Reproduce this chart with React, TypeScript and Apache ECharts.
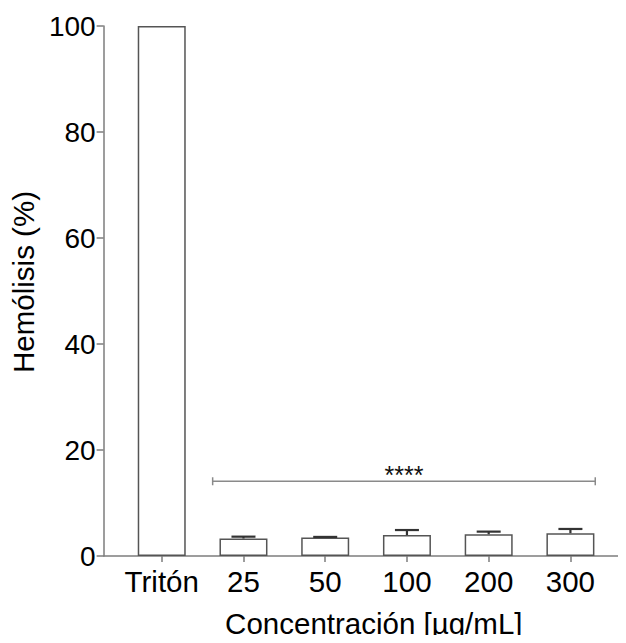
import React, { useEffect, useRef } from "react";
import * as echarts from "echarts";

const categories = ["Tritón", "25", "50", "100", "200", "300"];
const means = [100, 3.3, 3.5, 3.95, 4.1, 4.3];
const upperErr = [100, 3.65, 3.6, 4.9, 4.6, 5.1];
const sigLevel = 14.1;
const sigLabel = "****";
const yTicks = [0, 20, 40, 60, 80, 100];

const FONT = "'Liberation Sans', Arial, sans-serif";

export default function App() {
  const ref = useRef<HTMLDivElement>(null);
  useEffect(() => {
    if (!ref.current) return;
    const chart = echarts.init(ref.current, undefined, { renderer: "svg" });
    const axisColor = "#7d7d7d";
    chart.setOption({
      animation: false,
      textStyle: { fontFamily: FONT },
      grid: { left: 100, top: 26, right: 0, bottom: 85.5, containLabel: false },
      xAxis: {
        type: "value",
        min: -0.711,
        max: 5.68,
        splitLine: { show: false },
        axisLine: { show: true, onZero: false, lineStyle: { color: axisColor, width: 1.5 } },
        axisTick: {
          show: true,
          length: 6,
          customValues: categories.map((_, i) => i),
          lineStyle: { color: axisColor, width: 1.5 },
        },
        axisLabel: {
          customValues: categories.map((_, i) => i),
          formatter: (v: number) => categories[Math.round(v)] ?? "",
          fontSize: 29.5,
          color: "#000",
          margin: 10,
          fontFamily: FONT,
        },
        name: "Concentración [µg/mL]",
        nameLocation: "middle",
        nameGap: 52,
        nameTextStyle: { fontSize: 29.5, color: "#000", fontFamily: FONT, padding: [0, 0, 0, 18] },
      },
      yAxis: {
        type: "value",
        min: yTicks[0],
        max: yTicks[yTicks.length - 1],
        interval: 20,
        splitLine: { show: false },
        axisLine: { show: true, onZero: false, lineStyle: { color: axisColor, width: 1.5 } },
        axisTick: { show: true, length: 7, lineStyle: { color: axisColor, width: 1.5 } },
        axisLabel: { fontSize: 28, color: "#000", margin: 8, fontFamily: FONT },
        name: "Hemólisis (%)",
        nameLocation: "middle",
        nameGap: 59,
        nameTextStyle: { fontSize: 29.5, color: "#000", fontFamily: FONT, padding: [0, 0, 0, 18] },
      },
      series: [
        {
          type: "bar",
          data: means.map((m, i) => [i, m]),
          barWidth: 48,
          itemStyle: { color: "#fff", borderColor: "#555", borderWidth: 1.5 },
          z: 2,
        },
        {
          type: "custom",
          data: means.map((m, i) => [i, m, upperErr[i]]),
          z: 3,
          renderItem: (params: any, api: any) => {
            const x = api.value(0);
            const m = api.value(1);
            const u = api.value(2);
            if (u <= m) return null;
            const p0 = api.coord([x, m]);
            const p1 = api.coord([x, u]);
            const half = 12;
            const style = { stroke: "#333", lineWidth: 2.2 };
            return {
              type: "group",
              children: [
                { type: "line", shape: { x1: p0[0], y1: p0[1], x2: p1[0], y2: p1[1] }, style },
                { type: "line", shape: { x1: p1[0] - half, y1: p1[1], x2: p1[0] + half, y2: p1[1] }, style },
              ],
            };
          },
        },
        {
          type: "custom",
          data: [[1, 5, sigLevel]],
          z: 3,
          renderItem: (params: any, api: any) => {
            const band = api.size([1, 0])[0];
            const a = api.coord([api.value(0), api.value(2)]);
            const b = api.coord([api.value(1), api.value(2)]);
            const x1 = a[0] - 0.377 * band;
            const x2 = b[0] + 0.304 * band;
            const y = a[1];
            const style = { stroke: "#8a8a8a", lineWidth: 1.5 };
            return {
              type: "group",
              children: [
                { type: "line", shape: { x1, y1: y, x2, y2: y }, style },
                { type: "line", shape: { x1, y1: y - 4, x2: x1, y2: y + 4 }, style },
                { type: "line", shape: { x1: x2, y1: y - 4, x2, y2: y + 4 }, style },
                {
                  type: "text",
                  style: {
                    text: sigLabel,
                    x: (x1 + x2) / 2,
                    y: y + 6,
                    align: "center",
                    verticalAlign: "bottom",
                    fontSize: 25,
                    fontFamily: FONT,
                    fill: "#111",
                  },
                },
              ],
            };
          },
        },
      ],
    });
    return () => chart.dispose();
  }, []);
  return <div ref={ref} style={{ width: 626, height: 643, margin: "-8px" }} />;
}
